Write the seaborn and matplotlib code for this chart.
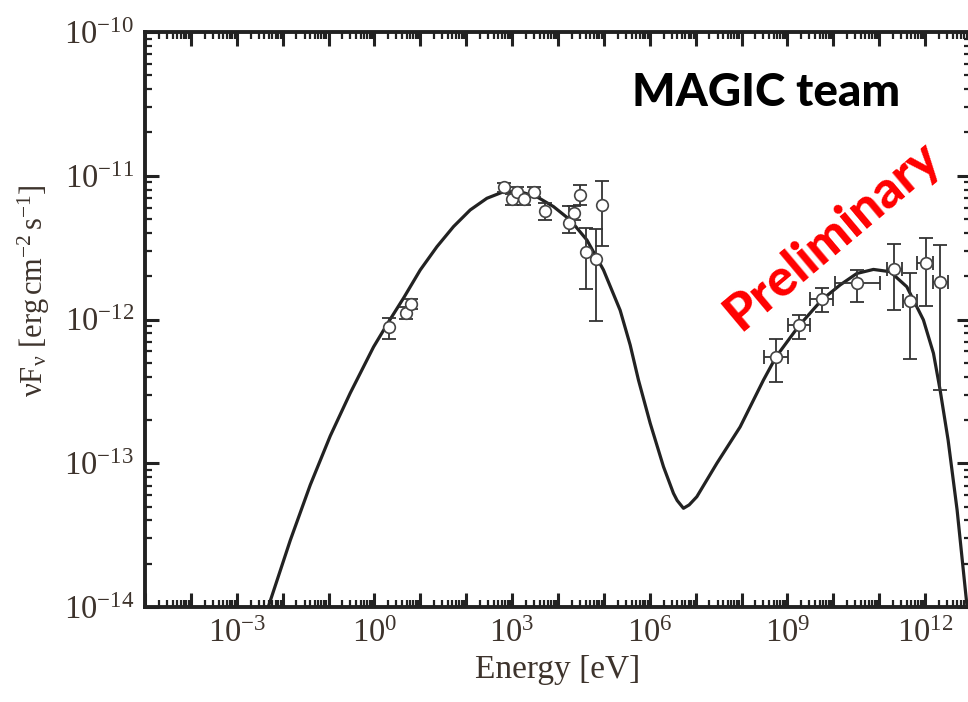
import matplotlib
matplotlib.use("Agg")
import matplotlib.pyplot as plt
import numpy as np
import pandas as pd
import seaborn as sns
from matplotlib.ticker import FixedLocator, FixedFormatter, LogLocator, NullFormatter

# ---------------- data ----------------
# SSC model curve (energy [eV], nuFnu [erg cm^-2 s^-1])
curve_e = [4.85e-3, 1.47e-2, 3.99e-2, 0.109, 0.297, 0.955, 2.03, 4.31, 9.95, 23.0,
           52.9, 122, 282, 650, 1500, 3467, 7980, 1.85e4, 4.27e4, 9.80e4,
           2.26e5, 3.74e5, 5.67e5, 1.02e6, 1.99e6, 3.28e6, 3.95e6, 5.42e6, 7.21e6, 1.06e7,
           2.90e7, 9.31e7, 3.00e8, 5.67e8, 1.77e9, 5.61e9, 1.41e10, 3.25e10, 7.48e10, 1.73e11,
           3.99e11, 9.18e11, 1.52e12, 2.12e12, 3.17e12, 4.98e12, 8.22e12, 9.55e12]
curve_f = [1.0e-14, 2.92e-14, 7.06e-14, 1.55e-13, 3.08e-13, 6.44e-13, 9.62e-13, 1.41e-12, 2.21e-12, 3.21e-12,
           4.43e-12, 5.78e-12, 6.97e-12, 7.74e-12, 7.74e-12, 7.14e-12, 6.10e-12, 4.92e-12, 3.57e-12, 2.21e-12,
           1.16e-12, 6.65e-13, 3.79e-13, 1.90e-13, 9.46e-14, 6.18e-14, 5.51e-14, 4.86e-14, 5.13e-14, 5.85e-14,
           1.0e-13, 1.79e-13, 3.79e-13, 5.51e-13, 9.02e-13, 1.37e-12, 1.74e-12, 2.09e-12, 2.23e-12, 2.15e-12,
           1.69e-12, 9.93e-13, 5.82e-13, 3.24e-13, 1.45e-13, 4.73e-14, 1.0e-14, 5.9e-15]

# low-energy (synchrotron) data points: only flux errors
sync_e = [2.03, 4.86, 6.24, 650, 990, 1273, 1771, 3030, 5080, 1.75e4, 2.25e4, 3.05e4, 4.11e4, 6.80e4, 9.31e4]
sync_f = [8.83e-13, 1.11e-12, 1.28e-12, 8.32e-12, 6.86e-12, 7.74e-12, 6.86e-12, 7.74e-12, 5.66e-12,
          4.67e-12, 5.53e-12, 7.35e-12, 2.96e-12, 2.62e-12, 6.27e-12]
sync_f_lo = [7.28e-13, 1.01e-12, 1.18e-12, 7.76e-12, 6.30e-12, 7.20e-12, 6.30e-12, 7.10e-12, 4.90e-12,
             3.98e-12, 4.90e-12, 6.27e-12, 1.63e-12, 9.82e-13, 3.24e-12]
sync_f_hi = [1.03e-12, 1.22e-12, 1.38e-12, 8.91e-12, 7.45e-12, 8.30e-12, 7.45e-12, 8.40e-12, 6.50e-12,
             6.17e-12, 6.20e-12, 8.63e-12, 4.31e-12, 4.24e-12, 9.25e-12]

# high-energy (gamma-ray) data points: energy and flux errors
gamma_e = [5.67e8, 1.77e9, 5.61e9, 3.25e10, 2.14e11, 4.71e11, 1.04e12, 2.12e12]
gamma_e_lo = [3.11e8, 1.05e9, 3.12e9, 1.09e10, 1.47e11, 3.27e11, 6.59e11, 1.52e12]
gamma_e_hi = [1.05e9, 3.12e9, 1.00e10, 1.05e11, 3.11e11, 6.59e11, 1.52e12, 3.22e12]
gamma_f = [5.51e-13, 9.16e-13, 1.39e-12, 1.79e-12, 2.24e-12, 1.35e-12, 2.48e-12, 1.82e-12]
gamma_f_lo = [3.66e-13, 7.28e-13, 1.13e-12, 1.33e-12, 1.16e-12, 5.28e-13, 1.24e-12, 3.24e-13]
gamma_f_hi = [7.31e-13, 1.07e-12, 1.65e-12, 2.21e-12, 3.35e-12, 2.12e-12, 3.71e-12, 3.30e-12]

x_major = [1e-5, 1e-4, 1e-3, 1e-2, 1e-1, 1e0, 1e1, 1e2, 1e3, 1e4, 1e5, 1e6, 1e7, 1e8, 1e9,
           1e10, 1e11, 1e12, 1e13]
x_labels = ['', '', r'$\mathregular{10^{-3}}$', '', '', r'$\mathregular{10^{0}}$', '', '',
            r'$\mathregular{10^{3}}$', '', '', r'$\mathregular{10^{6}}$', '', '',
            r'$\mathregular{10^{9}}$', '', '', r'$\mathregular{10^{12}}$', '']
y_major = [1e-14, 1e-13, 1e-12, 1e-11, 1e-10]
y_labels = [r'$\mathregular{10^{-14}}$', r'$\mathregular{10^{-13}}$', r'$\mathregular{10^{-12}}$',
            r'$\mathregular{10^{-11}}$', r'$\mathregular{10^{-10}}$']

# ---------------- style ----------------
sns.set_theme(style="white")
plt.rcParams['font.family'] = ['Liberation Serif', 'DejaVu Serif']
plt.rcParams['mathtext.fontset'] = 'custom'
plt.rcParams['mathtext.rm'] = 'Liberation Serif'
plt.rcParams['mathtext.it'] = 'Liberation Serif'
plt.rcParams['mathtext.bf'] = 'Liberation Serif:bold'
plt.rcParams['axes.unicode_minus'] = False

label_color = '#3d332c'
ink = '#222222'

fig = plt.figure(figsize=(9.68, 7.02), dpi=100)
ax = fig.add_axes([145 / 968, 1 - 607 / 702, (971 - 145) / 968, (607 - 32) / 702])
ax.set_xscale('log')
ax.set_yscale('log')

curve_df = pd.DataFrame({'E': curve_e, 'F': curve_f})
sns.lineplot(data=curve_df, x='E', y='F', sort=False, estimator=None, color=ink,
             linewidth=2.3, ax=ax, zorder=3)

sf = np.array(sync_f)
ax.errorbar(sync_e, sync_f, yerr=[sf - np.array(sync_f_lo), np.array(sync_f_hi) - sf],
            fmt='none', ecolor='#333333', elinewidth=1.3, capsize=5, capthick=1.3, zorder=4)
ge = np.array(gamma_e)
gf = np.array(gamma_f)
ax.errorbar(gamma_e, gamma_f,
            xerr=[ge - np.array(gamma_e_lo), np.array(gamma_e_hi) - ge],
            yerr=[gf - np.array(gamma_f_lo), np.array(gamma_f_hi) - gf],
            fmt='none', ecolor='#333333', elinewidth=1.3, capsize=5, capthick=1.3, zorder=4)

pts = pd.DataFrame({'E': sync_e + gamma_e, 'F': sync_f + gamma_f})
sns.scatterplot(data=pts, x='E', y='F', marker='o', s=70, facecolor='white',
                edgecolor='#444444', linewidth=1.2, ax=ax, zorder=5)

ax.set_xlim(1e-5, 1e13)
ax.set_ylim(1e-14, 1e-10)

ax.xaxis.set_major_locator(FixedLocator(x_major))
ax.xaxis.set_major_formatter(FixedFormatter(x_labels))
ax.xaxis.set_minor_locator(LogLocator(base=10, subs=np.arange(2, 10), numticks=200))
ax.xaxis.set_minor_formatter(NullFormatter())
ax.yaxis.set_major_locator(FixedLocator(y_major))
ax.yaxis.set_major_formatter(FixedFormatter(y_labels))
ax.yaxis.set_minor_locator(LogLocator(base=10, subs=np.arange(2, 10), numticks=200))
ax.yaxis.set_minor_formatter(NullFormatter())

ax.tick_params(which='both', direction='in', top=True, right=True, bottom=True, left=True,
               color=ink)
ax.tick_params(which='major', length=10, width=2.2, labelsize=23.5, labelcolor=label_color, pad=8)
ax.tick_params(which='minor', length=5, width=1.6)
for s in ax.spines.values():
    s.set_linewidth(2.8)
    s.set_color(ink)

ax.set_xlabel('Energy [eV]', fontsize=24, color=label_color, labelpad=4)
ax.set_ylabel(r'$\mathregular{\nu F_{\nu}\ [erg\,cm^{-2}\,s^{-1}]}$', fontsize=22, color=label_color)
ax.yaxis.set_label_coords(-0.112, 0.55)

ax.text(0.59, 0.894, 'MAGIC team', transform=ax.transAxes, fontsize=33, fontfamily='Lato',
        fontweight='black', color='black', ha='left', va='center')
ax.text(0.832, 0.645, 'Preliminary', transform=ax.transAxes, fontsize=37, fontfamily='Lato',
        fontweight='black', color='#ff0000', ha='center', va='center', rotation=40,
        rotation_mode='anchor', zorder=6)

fig.savefig('out.png', dpi=100)
